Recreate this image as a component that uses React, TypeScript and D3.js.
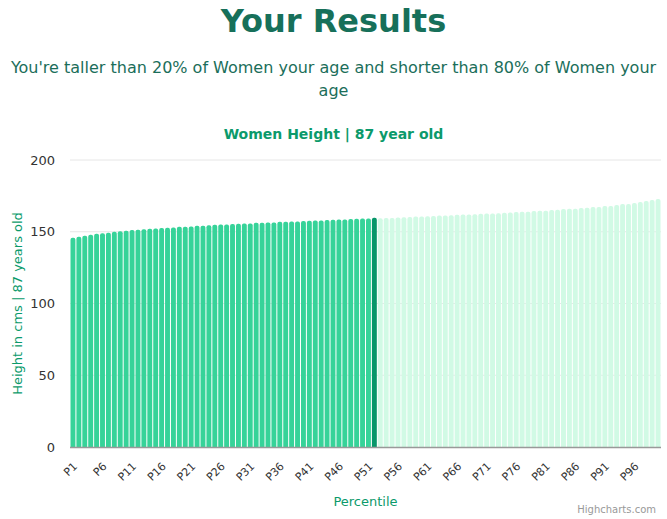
import React from "react";
import * as d3 from "d3";

const categories: string[] = Array.from({ length: 100 }, (_, i) => `P${i + 1}`);

const heights: number[] = [
  145.8, 146.5, 147.2, 147.9, 148.6, 149.0, 149.3, 150.0, 150.4, 150.7,
  151.2, 151.4, 151.8, 152.1, 152.2, 152.6, 152.8, 153.0, 153.4, 153.5,
  153.7, 154.1, 154.2, 154.6, 154.9, 155.0, 155.1, 155.4, 155.6, 155.7,
  155.8, 156.2, 156.3, 156.4, 156.5, 156.9, 157.0, 157.1, 157.2, 157.5,
  157.7, 157.8, 157.9, 158.2, 158.4, 158.5, 158.6, 158.9, 159.1, 159.2,
  159.3, 159.8, 159.4, 159.5, 159.6, 160.0, 160.1, 160.2, 160.6, 160.7,
  160.8, 160.9, 161.3, 161.4, 161.5, 161.9, 162.0, 162.1, 162.2, 162.6,
  162.7, 162.8, 162.9, 163.2, 163.4, 163.8, 163.9, 164.0, 164.5, 164.6,
  164.7, 165.2, 165.3, 165.9, 166.0, 166.1, 166.6, 166.7, 167.2, 167.3,
  167.9, 168.0, 168.6, 169.3, 169.4, 170.0, 170.7, 171.4, 172.1, 172.8,
];

const highlightIndex = 51;
const yTicks: number[] = [0, 50, 100, 150, 200];
const labelEvery = 5;

const W = 667;
const H = 519;
const M = { left: 70, right: 6, top: 160, bottom: 72 };

const FONT = "'DejaVu Sans', Helvetica, Arial, sans-serif";

export default function App() {
  const x = d3
    .scaleBand<string>()
    .domain(categories)
    .range([M.left, W - M.right])
    .paddingInner(0)
    .paddingOuter(0);
  const y = d3.scaleLinear().domain([0, 200]).range([H - M.bottom, M.top]);

  const bw = x.bandwidth();
  const r = 2;

  const barPath = (x0: number, w: number, yTop: number, yBot: number) => {
    const rr = Math.min(r, w / 2);
    return `M${x0},${yBot}L${x0},${yTop + rr}Q${x0},${yTop} ${x0 + rr},${yTop}L${x0 + w - rr},${yTop}Q${x0 + w},${yTop} ${x0 + w},${yTop + rr}L${x0 + w},${yBot}Z`;
  };

  const colorFor = (i: number) =>
    i === highlightIndex ? "#079669" : i < highlightIndex ? "#36d399" : "#d1fae5";

  return (
    <svg
      width={W}
      height={H}
      style={{ position: "absolute", left: 0, top: 0, fontFamily: FONT }}
    >
      <rect x={0} y={0} width={W} height={H} fill="#ffffff" />
      <text x={W / 2} y={32} textAnchor="middle" fontSize={32} fontWeight="bold" fill="#17705a">
        Your Results
      </text>
      <text x={W / 2} y={73} textAnchor="middle" fontSize={16} fill="#1b6e5a">
        You're taller than 20% of Women your age and shorter than 80% of Women your
      </text>
      <text x={W / 2} y={96} textAnchor="middle" fontSize={16} fill="#1b6e5a">
        age
      </text>
      <text x={W / 2} y={139} textAnchor="middle" fontSize={14} fontWeight="bold" fill="#0b9a6b">
        Women Height | 87 year old
      </text>

      {yTicks.map((t) => (
        <g key={t}>
          {t !== 0 && (
            <line x1={M.left} x2={W - M.right} y1={y(t)} y2={y(t)} stroke="#e6e6e6" strokeWidth={1} />
          )}
          <text x={55} y={y(t) + 4.5} textAnchor="end" fontSize={13} fill="#333333">
            {t}
          </text>
        </g>
      ))}

      {heights.map((v, i) => {
        const x0 = (x(categories[i]) as number) + 0.5;
        const w = bw - 1;
        return (
          <path
            key={i}
            d={barPath(x0, w, y(v), y(0))}
            fill={colorFor(i)}
          />
        );
      })}

      <line x1={M.left} x2={W - M.right} y1={y(0) + 0.5} y2={y(0) + 0.5} stroke="#999999" strokeWidth={1.5} />

      {categories.map((c, i) =>
        i % labelEvery === 0 ? (
          <text
            key={c}
            fontSize={11}
            fill="#333333"
            textAnchor="end"
            transform={`translate(${(x(c) as number) + bw / 2 + 5},${y(0) + 20}) rotate(-45)`}
          >
            {c}
          </text>
        ) : null
      )}

      <text x={(M.left + W - M.right) / 2} y={506} textAnchor="middle" fontSize={13} fill="#0b9a6b">
        Percentile
      </text>
      <text
        transform={`translate(22,${(M.top + H - M.bottom) / 2}) rotate(-90)`}
        textAnchor="middle"
        fontSize={13}
        fill="#0b9a6b"
      >
        Height in cms | 87 years old
      </text>
      <text x={656} y={513} textAnchor="end" fontSize={10} fill="#999999">
        Highcharts.com
      </text>
    </svg>
  );
}
